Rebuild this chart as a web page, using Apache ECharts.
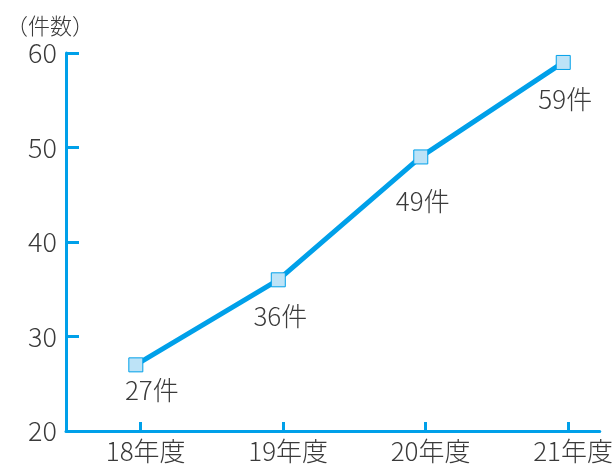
<!DOCTYPE html>
<html>
<head>
    <meta charset="utf-8">
    <title>件数</title>
    <script src="https://cdn.jsdelivr.net/npm/echarts@6/dist/echarts.min.js"></script>
    <style>
        html, body { margin: 0; padding: 0; background: #fff; }
        #chart1 { width: 616px; height: 464px; }
    </style>
</head>
<body>
<div id="chart1"></div>
<script type="text/javascript">
    // データ
    var categories = ['18年度', '19年度', '20年度', '21年度'];
    var counts = [27, 36, 49, 59];
    var yTicks = [20, 30, 40, 50, 60];
    var unitLabel = '（件数）';
    var valueSuffix = '件';

    var blue = '#00a0e9';
    var font = '"Noto Sans CJK JP", "Noto Sans", sans-serif';
    var textColor = '#3a3a3a';

    // ラベル位置の微調整（見た目のみ）
    var labelShift = [[16, 25], [2, 36], [2, 44], [2, 37]];

    var points = counts.map(function (v, i) {
        return {
            value: [i, v],
            label: { offset: [labelShift[i][0], labelShift[i][1]] }
        };
    });

    var tickPos = categories.map(function (c, i) { return i + 0.034; });

    echarts.init(document.getElementById('chart1')).setOption({
        animation: false,
        textStyle: { fontFamily: font },
        grid: { left: 66, right: 16, top: 53, bottom: 32 },
        graphic: [{
            type: 'text', left: 6, top: 15,
            style: { text: unitLabel, font: '300 22px ' + font, fill: textColor }
        }],
        xAxis: {
            type: 'value',
            min: -0.49,
            max: 3.256,
            splitLine: { show: false },
            axisLine: { onZero: false, lineStyle: { color: blue, width: 3 } },
            axisTick: {
                inside: true, length: 9, customValues: tickPos,
                lineStyle: { color: blue, width: 3 }
            },
            axisLabel: {
                customValues: tickPos,
                margin: 7,
                padding: [0, 0, 0, 10],
                fontSize: 26,
                fontWeight: 300,
                color: textColor,
                formatter: function (v) { return categories[Math.round(v)]; }
            }
        },
        yAxis: {
            type: 'value',
            min: yTicks[0],
            max: yTicks[yTicks.length - 1],
            interval: 10,
            splitLine: { show: false },
            axisLine: { show: true, onZero: false, lineStyle: { color: blue, width: 3 } },
            axisTick: { show: true, inside: true, length: 13, lineStyle: { color: blue, width: 3 } },
            axisLabel: { margin: 9, fontSize: 27, fontWeight: 300, color: textColor }
        },
        series: [{
            type: 'line',
            data: points,
            symbol: 'rect',
            symbolSize: 14,
            lineStyle: { color: blue, width: 5 },
            itemStyle: { color: '#bde3f7', borderColor: blue, borderWidth: 1 },
            label: {
                show: true,
                position: 'inside',
                fontSize: 26,
                fontWeight: 300,
                color: textColor,
                formatter: function (p) { return p.value[1] + valueSuffix; }
            }
        }]
    });
</script>
</body>
</html>
